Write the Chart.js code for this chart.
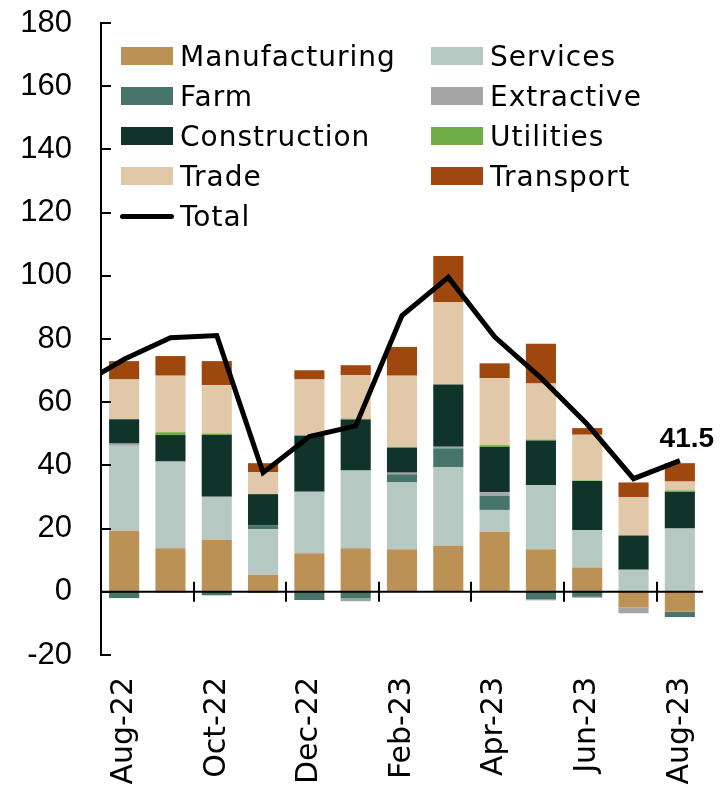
<!DOCTYPE html>
<html>
<head>
<meta charset="utf-8">
<script src="https://cdn.jsdelivr.net/npm/chart.js@4"></script>
<style>
  html, body { margin: 0; padding: 0; background: #fff; }
  #wrap { position: relative; width: 720px; height: 787px; }
  #legend { position: absolute; left: 0; top: 0; font-family: "DejaVu Sans", sans-serif; font-size: 28px; color: #000; }
  .item { position: absolute; height: 40px; display: flex; align-items: center; white-space: nowrap; letter-spacing: 1px; }
  .box { width: 52px; height: 18px; margin-right: 7px; }
  .ln { width: 54px; height: 5px; border-radius: 3px; background: #000; margin-right: 6px; }
</style>
</head>
<body>
<div id="wrap">
  <canvas id="chart" width="720" height="787"></canvas>
  <div id="legend"></div>
</div>
<script>
// Jul-22 only carries the total line, it sits left of the visible range
const months = ['Jul-22', 'Aug-22', 'Sep-22', 'Oct-22', 'Nov-22', 'Dec-22', 'Jan-23',
  'Feb-23', 'Mar-23', 'Apr-23', 'May-23', 'Jun-23', 'Jul-23', 'Aug-23'];

const manufacturing = [null, 19.3, 13.8, 16.4, 5.4, 12.2, 13.8, 13.5, 14.5, 19.0, 13.5, 7.7, -4.9, -6.3];
const services      = [null, 26.9, 27.4, 13.7, 14.4, 19.5, 24.6, 21.1, 24.9, 6.9, 20.3, 11.8, 7.0, 20.0];
const farm          = [null, -2.0, 0, -1.1, 1.3, -2.6, -2.1, 2.6, 6.0, 4.5, -2.4, -1.6, 0, -1.7];
const extractive    = [null, 0.7, -0.3, 0, 0, 0, -0.9, 0.5, 0.5, 1.1, -0.3, -0.3, -1.9, 0];
const construction  = [null, 7.7, 8.4, 19.5, 9.8, 17.6, 16.1, 7.9, 19.7, 14.3, 14.1, 15.6, 10.8, 11.6];
const utilities     = [null, 0, 0.9, 0.5, -0.4, 0.3, 0.3, 0.3, 0, 0.6, 0.3, 0.2, 0, 0.5];
const trade         = [null, 12.6, 17.9, 15.3, 7.0, 17.6, 13.7, 22.5, 26.1, 21.2, 17.7, 14.4, 12.1, 2.8];
const transport     = [null, 5.8, 6.2, 7.6, 2.8, 2.9, 3.2, 9.1, 14.6, 4.7, 12.6, 2.1, 4.7, 5.8];
const total         = [65.0, 73.6, 80.4, 81.1, 37.7, 49.1, 52.5, 87.4, 99.5, 80.7, 67.7, 53.0, 35.8, 41.5];

const seriesNames = ['Manufacturing', 'Services', 'Farm', 'Extractive', 'Construction', 'Utilities', 'Trade', 'Transport'];
const seriesData = [manufacturing, services, farm, extractive, construction, utilities, trade, transport];
const seriesColors = ['#BC9155', '#B5C8C2', '#48756A', '#A5A5A5', '#10332A', '#70AD47', '#E0C8A8', '#9E470E'];

const yTicks = [-20, 0, 20, 40, 60, 80, 100, 120, 140, 160, 180];

// legend (html, two columns)
const legend = document.getElementById('legend');
const colX = [121, 431];
seriesNames.forEach((name, i) => {
  const d = document.createElement('div');
  d.className = 'item';
  d.style.left = colX[i % 2] + 'px';
  d.style.top = (36 + Math.floor(i / 2) * 40) + 'px';
  d.innerHTML = '<span class="box" style="background:' + seriesColors[i] + '"></span>' + name;
  legend.appendChild(d);
});
const tot = document.createElement('div');
tot.className = 'item';
tot.style.left = '120px';
tot.style.top = '196px';
tot.innerHTML = '<span class="ln"></span>Total';
legend.appendChild(tot);

// zero line, tick marks and the last value label
const axisMarks = {
  id: 'axisMarks',
  afterDatasetsDraw(chart) {
    const { ctx, chartArea, scales: { x, y } } = chart;
    const y0 = y.getPixelForValue(0);
    ctx.save();
    ctx.strokeStyle = '#000';
    ctx.lineWidth = 2;
    ctx.beginPath();
    ctx.moveTo(chartArea.left, y0);
    ctx.lineTo(chartArea.right, y0);
    // category ticks before every second month
    for (let i = x.min + 2; i <= x.max; i += 2) {
      const bx = Math.round((x.getPixelForValue(i - 1) + x.getPixelForValue(i)) / 2);
      ctx.moveTo(bx, y0 - 10);
      ctx.lineTo(bx, y0 + 10);
    }
    // y ticks point inward
    yTicks.forEach(v => {
      const py = Math.round(y.getPixelForValue(v));
      ctx.moveTo(chartArea.left, py);
      ctx.lineTo(chartArea.left + 10, py);
    });
    ctx.stroke();

    const meta = chart.getDatasetMeta(0);
    const last = meta.data[meta.data.length - 1];
    ctx.fillStyle = '#000';
    ctx.font = 'bold 28px "Liberation Sans", Arial, sans-serif';
    ctx.textAlign = 'center';
    ctx.textBaseline = 'alphabetic';
    ctx.fillText(total[total.length - 1].toFixed(1), last.x + 7, last.y - 14);
    ctx.restore();
  }
};

const datasets = [{
  type: 'line',
  label: 'Total',
  data: total,
  borderColor: '#000',
  borderWidth: 5,
  pointRadius: 0,
  tension: 0,
  order: 0
}];
seriesNames.forEach((name, i) => {
  datasets.push({
    type: 'bar',
    label: name,
    data: seriesData[i],
    backgroundColor: seriesColors[i],
    borderWidth: 0,
    barPercentage: 0.65,
    categoryPercentage: 1,
    stack: 'sectors',
    order: 1
  });
});

new Chart(document.getElementById('chart'), {
  data: { labels: months, datasets },
  plugins: [axisMarks],
  options: {
    responsive: false,
    animation: false,
    devicePixelRatio: 1,
    layout: { padding: { left: 0, right: 17, top: 23, bottom: 0 } },
    plugins: { legend: { display: false }, tooltip: { enabled: false } },
    scales: {
      x: {
        stacked: true,
        min: 'Aug-22',
        grid: { display: false, drawTicks: false },
        border: { display: false },
        ticks: {
          autoSkip: false,
          minRotation: 90,
          maxRotation: 90,
          padding: 22,
          color: '#000',
          font: { family: '"DejaVu Sans", sans-serif', size: 30 },
          callback: function (value) { return value % 2 === 1 ? this.getLabelForValue(value) : ''; }
        },
        afterFit: (scale) => {
          scale.height = 132;
          scale.paddingLeft = 0;
          scale.paddingRight = 0;
        }
      },
      y: {
        stacked: true,
        min: -20,
        max: 180,
        grid: { display: false, drawTicks: false },
        border: { display: true, color: '#000', width: 2 },
        ticks: {
          stepSize: 20,
          padding: 29,
          color: '#000',
          font: { family: '"Liberation Sans", Arial, sans-serif', size: 31 }
        },
        afterFit: (scale) => {
          scale.width = 101;
          scale.paddingTop = 0;
          scale.paddingBottom = 0;
        }
      }
    }
  }
});
</script>
</body>
</html>
